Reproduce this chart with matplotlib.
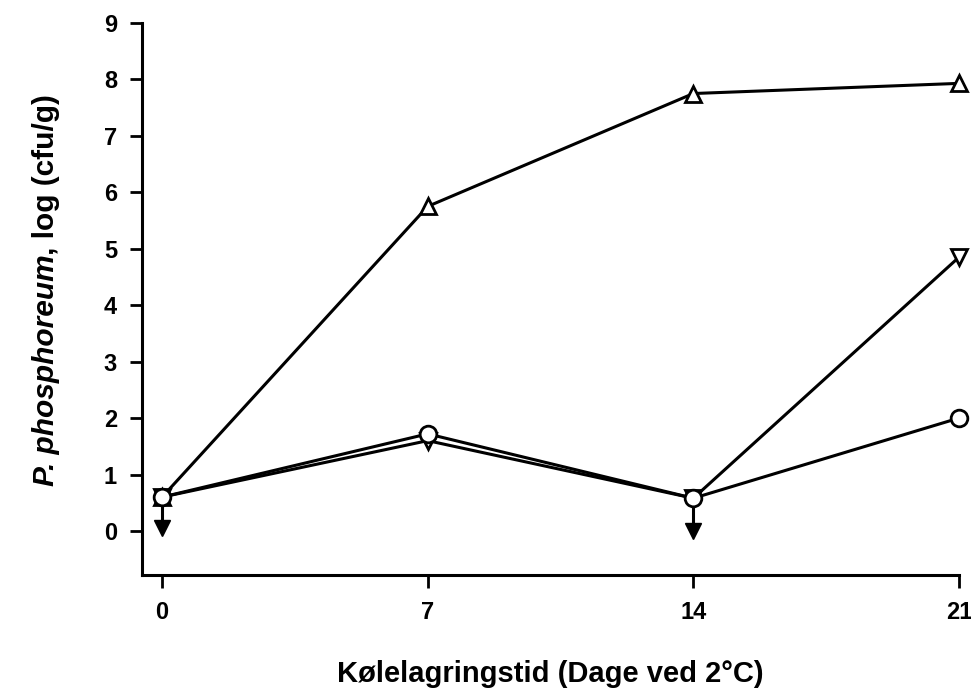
import matplotlib.pyplot as plt

plt.rcParams.update({
    'font.family': 'Liberation Sans',
    'font.weight': 'bold',
})

dage = [0, 7, 14, 21]
serie_op = [0.6, 5.75, 7.75, 7.93]
serie_ned = [0.6, 1.6, 0.58, 4.85]
serie_cirkel = [0.6, 1.72, 0.58, 2.0]

# under detektionsgraensen
pil_x = [0, 14]
pil_top = [0.6, 0.58]
pil_bund = [0.05, 0.0]

W, H = 971, 690
fig = plt.figure(figsize=(W / 100, H / 100), dpi=100)
ax = fig.add_axes([0.1462, 0.1667, 0.8414, 0.8])

for x, y0, y1 in zip(pil_x, pil_top, pil_bund):
    ax.plot([x, x], [y0, y1], color='black', lw=2.2)
ax.plot(pil_x, pil_bund, linestyle='none', marker='v', markersize=12,
        color='black')

mk = dict(color='black', lw=2.2, markersize=12, markerfacecolor='white',
          markeredgewidth=2, clip_on=False)
ax.plot(dage, serie_op, marker='^', **mk)
ax.plot(dage, serie_ned, marker='v', **mk)
ax.plot(dage, serie_cirkel, marker='o', **mk)

ax.set_xlim(-0.53, 21)
ax.set_ylim(-0.78, 9)
ax.set_xticks(dage)
ax.set_yticks(range(0, 10))
ax.tick_params(direction='out', length=9, width=2, labelsize=17)
ax.tick_params(axis='y', pad=9)
ax.tick_params(axis='x', pad=10)
for lab in ax.get_xticklabels() + ax.get_yticklabels():
    lab.set_fontweight('bold')
for s in ['top', 'right']:
    ax.spines[s].set_visible(False)
for s in ['left', 'bottom']:
    ax.spines[s].set_linewidth(2.2)

ax.set_xlabel('Kølelagringstid (Dage ved 2°C)', fontsize=21, fontweight='bold',
              labelpad=26)

# y-akse tekst i to dele: kursiv artsnavn + normal enhed
bx = 54 / W
t1 = fig.text(bx, 0.5, 'P. phosphoreum', rotation=90, rotation_mode='anchor',
              ha='left', va='baseline', fontsize=21.5, fontweight='bold',
              fontstyle='italic')
t2 = fig.text(bx, 0.5, ', log (cfu/g)', rotation=90, rotation_mode='anchor',
              ha='left', va='baseline', fontsize=21.5, fontweight='bold')
fig.canvas.draw()
r = fig.canvas.get_renderer()
h1 = t1.get_window_extent(r).height
h2 = t2.get_window_extent(r).height
midt = H - 290
start = midt - (h1 + h2) / 2
t1.set_y(start / H)
t2.set_y((start + h1) / H)

fig.savefig('out.png', dpi=100)
